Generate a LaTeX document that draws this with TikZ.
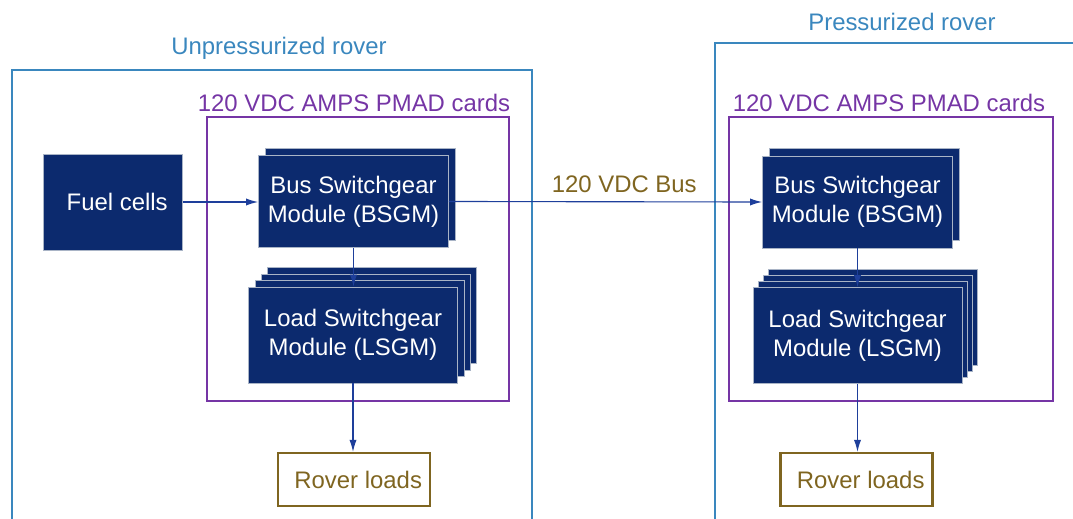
\documentclass[tikz,border=0pt]{standalone}
\usepackage{fontspec}
\setmainfont{Liberation Sans}
\usetikzlibrary{arrows.meta}
\definecolor{navy}{HTML}{0C2A6E}
\definecolor{edgegray}{HTML}{A9B4C6}
\definecolor{roverblue}{HTML}{3A87BE}
\definecolor{cardpurple}{HTML}{7535A5}
\definecolor{olive}{HTML}{7F6520}
\definecolor{linkblue}{HTML}{1E3F9B}
\begin{document}
\begin{tikzpicture}[
  x=0.025cm, y=-0.025cm,
  every node/.style={font=\fontsize{17}{20.5}\selectfont},
  module/.style={rectangle, draw=edgegray, line width=0.6pt, fill=navy, text=white, align=center, inner sep=0pt},
  bsgm/.style={module, minimum width=4.75cm, minimum height=2.3cm},
  lsgm/.style={module, minimum width=5.225cm, minimum height=2.4cm},
  loads/.style={rectangle, draw=olive, line width=1.6pt, text=olive, minimum width=3.8cm, minimum height=1.325cm, inner sep=0pt},
  rover/.style={draw=roverblue, line width=1.3pt},
  cards/.style={draw=cardpurple, line width=1.4pt},
  arrow/.style={-{Latex[length=3mm,width=1.8mm]}, draw=linkblue, line width=0.8pt}
]
  \useasboundingbox (0,0) rectangle (1073,519);

  % Rover frames
  \draw[rover] (12,525) -- (12,70) -- (532,70) -- (532,525);
  \draw[rover] (715,525) -- (715,43) -- (1080,43);
  \node[text=roverblue] (titleL) at (279,48) {Unpressurized rover};
  \node[text=roverblue] (titleR) at (902,22) {Pressurized rover};

  % PMAD card frames
  \draw[cards] (207,117) rectangle (509,401);
  \draw[cards] (729,117) rectangle (1053,401);
  \node[text=cardpurple] (cardsL) at (354,103) {120 VDC AMPS PMAD cards};
  \node[text=cardpurple] (cardsR) at (889,103) {120 VDC AMPS PMAD cards};

  % Unpressurized rover
  \node[module, minimum width=3.475cm, minimum height=2.4cm] (fuel) at (113,202) {\hspace*{6pt}Fuel cells};
  \node[bsgm] (bsgmLb) at (360.5,194) {};
  \node[bsgm] (bsgmL) at (353.5,201.5) {Bus Switchgear\\Module (BSGM)};
  \node[lsgm] (lsgmL3) at (372,315) {};
  \node[lsgm] (lsgmL2) at (366,322) {};
  \node[lsgm] (lsgmL1) at (359.5,328.5) {};
  \node[lsgm] (lsgmL) at (353,335) {Load Switchgear\\Module (LSGM)};
  \node[loads] (loadsL) at (354,479.5) {\hspace*{6pt}Rover loads};

  % Pressurized rover
  \node[bsgm] (bsgmRb) at (864,194.5) {};
  \node[bsgm] (bsgmR) at (857.5,202) {Bus Switchgear\\Module (BSGM)};
  \node[lsgm] (lsgmR3) at (872.5,317) {};
  \node[lsgm] (lsgmR2) at (867.5,323) {};
  \node[lsgm] (lsgmR1) at (862.5,329) {};
  \node[lsgm] (lsgmR) at (857.5,335.5) {Load Switchgear\\Module (LSGM)};
  \node[loads] (loadsR) at (856.5,479.5) {\hspace*{6pt}Rover loads};

  % Power flow
  \draw[arrow] (fuel.east) -- (fuel.east -| bsgmL.west);
  \draw[arrow] (bsgmL.east) -- node[pos=0.56, above=3pt, text=olive] (bus) {120 VDC Bus} (bsgmR.west);
  \draw[arrow] (bsgmL.south) -- (bsgmL.south |- lsgmL.north);
  \draw[arrow] (lsgmL.south) -- (lsgmL.south |- loadsL.north);
  \draw[arrow] (bsgmR.south) -- (bsgmR.south |- lsgmR.north);
  \draw[arrow] (lsgmR.south) -- (lsgmR.south |- loadsR.north);
\end{tikzpicture}
\end{document}
